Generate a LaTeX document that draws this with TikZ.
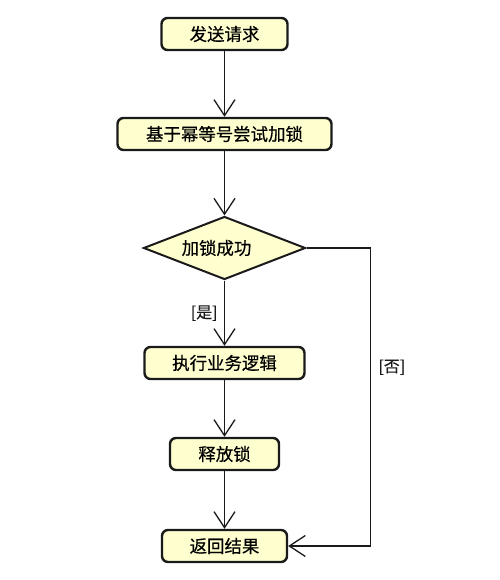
\documentclass[tikz,border=0pt]{standalone}
\usepackage{fontspec}
\setmainfont{Noto Sans CJK SC}[RawFeature={embolden=0.4}]
\usetikzlibrary{arrows.meta,shapes.geometric}
\definecolor{boxfill}{HTML}{FEFECE}
\definecolor{boxline}{HTML}{1A1A1A}
\tikzset{
  actbox/.style={draw=boxline, fill=boxfill, line width=2.4bp, rounded corners=6bp,
    inner sep=0pt, minimum height=32bp, font=\fontsize{17.5}{20}\selectfont},
  decbox/.style={draw=boxline, fill=boxfill, line width=2bp, diamond, aspect=2.57,
    inner sep=0pt, minimum width=162bp, minimum height=63bp, font=\fontsize{17.5}{20}\selectfont},
  flow/.style={draw=boxline, line width=1.3bp, -{Straight Barb[length=16bp,width=21bp]}},
  plain/.style={draw=boxline, line width=1.3bp},
  guard/.style={font=\fontsize{16}{18}\selectfont, text=boxline}
}
\begin{document}
\begin{tikzpicture}[x=1bp,y=-1bp]
\useasboundingbox (0,0) rectangle (500,580);
\node[actbox, minimum width=126bp] (send) at (224.5,34) {发送请求};
\node[actbox, minimum width=214bp] (lock) at (224.5,134) {基于幂等号尝试加锁};
\node[decbox] (dec) at (224.5,248) {\hspace*{-16bp}加锁成功};
\node[actbox, minimum width=160bp] (biz) at (224.5,363) {执行业务逻辑};
\node[actbox, minimum width=109bp] (rel) at (224.5,454) {释放锁};
\node[actbox, minimum width=125bp] (ret) at (224.5,546) {返回结果};
\coordinate (c1) at (370.5,248);
\coordinate (c2) at (370.5,546);
\draw[flow] (send) -- (lock);
\draw[flow] (lock) -- (dec);
\draw[flow] (dec) -- node[guard, pos=0.5, left=3bp] {[是]} (biz);
\draw[flow] (biz) -- (rel);
\draw[flow] (rel) -- (ret);
\draw[plain] (dec.east) -- (c1) -- node[guard, pos=0.4, right=4bp] {[否]} (c2);
\draw[flow] (c2) -- (ret.east);
\end{tikzpicture}
\end{document}
